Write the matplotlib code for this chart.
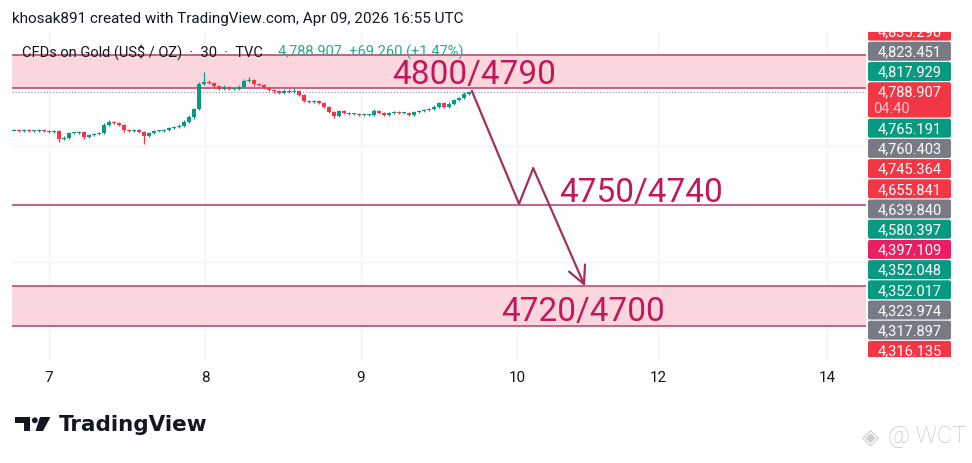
import numpy as np
import matplotlib.pyplot as plt
from matplotlib.patches import FancyBboxPatch, Polygon, Circle

# dane - swiece 30m (ceny zamkniecia)
closes = [
    4777.4, 4777.1, 4777.4, 4777.1, 4777.1, 4777.4, 4777.1, 4776.8, 4777.1, 4774.7,
    4775.0, 4776.5, 4776.5, 4776.8, 4775.3, 4775.9, 4776.2, 4776.5, 4778.9, 4779.8,
    4779.5, 4778.9, 4777.4, 4777.1, 4777.4, 4776.8, 4775.6, 4776.5, 4777.1, 4777.1,
    4777.4, 4778.0, 4778.3, 4778.6, 4779.8, 4781.3, 4783.7, 4791.3, 4791.9, 4791.6,
    4790.7, 4789.8, 4790.4, 4789.8, 4789.8, 4790.4, 4792.2, 4792.5, 4791.3, 4791.0,
    4790.1, 4789.5, 4789.2, 4788.6, 4789.2, 4788.9, 4789.2, 4788.0, 4786.2, 4785.9,
    4786.2, 4785.6, 4784.4, 4782.8, 4781.6, 4783.1, 4782.5, 4782.2, 4782.2, 4781.9,
    4781.9, 4781.9, 4783.1, 4782.5, 4781.9, 4782.5, 4782.8, 4782.5, 4782.5, 4781.9,
    4782.8, 4783.1, 4783.4, 4783.7, 4784.4, 4785.6, 4784.4, 4785.3, 4786.5, 4787.1,
    4788.3, 4788.907,
]
first_open = 4777.2
up_wick = [
    0.3, 0.2, 0.3, 0.2, 0.3, 0.2, 0.3, 0.2, 0.3, 0.4,
    0.5, 0.3, 0.4, 0.3, 0.3, 0.4, 0.3, 0.3, 0.5, 0.6,
    0.4, 0.3, 0.3, 0.3, 0.4, 0.3, 0.3, 0.4, 0.3, 0.3,
    0.4, 0.4, 0.3, 0.5, 0.5, 0.6, 0.4, 0.5, 3.0, 0.6,
    0.4, 0.3, 0.5, 0.3, 0.4, 0.5, 0.6, 0.9, 0.4, 0.3,
    0.4, 0.3, 0.3, 0.2, 0.6, 0.5, 0.8, 0.3, 0.3, 0.4,
    0.3, 0.2, 0.3, 0.3, 0.2, 0.4, 0.3, 0.3, 0.2, 0.3,
    0.3, 0.2, 0.5, 0.3, 0.2, 0.4, 0.3, 0.3, 0.2, 0.3,
    0.4, 0.3, 0.4, 0.3, 0.5, 0.4, 0.3, 0.5, 0.4, 0.4,
    0.5, 0.3,
]
low_wick = [
    0.2, 0.3, 0.2, 0.3, 0.2, 0.3, 0.2, 0.3, 0.2, 0.8,
    0.4, 0.3, 0.3, 0.2, 0.5, 0.3, 0.3, 0.4, 0.3, 0.3,
    0.3, 0.4, 0.5, 0.3, 0.3, 0.4, 2.5, 0.3, 0.3, 0.2,
    0.3, 0.3, 0.4, 0.3, 0.4, 0.3, 0.5, 0.4, 0.3, 0.4,
    0.5, 0.4, 0.3, 0.4, 0.3, 0.4, 0.3, 0.3, 0.5, 0.3,
    0.4, 0.3, 0.5, 0.4, 0.3, 0.3, 0.4, 0.3, 0.4, 0.3,
    0.3, 0.3, 0.4, 0.3, 0.6, 0.3, 0.4, 0.3, 0.3, 0.4,
    0.3, 0.4, 0.3, 0.4, 0.3, 0.3, 0.3, 0.4, 0.3, 0.4,
    0.3, 0.3, 0.3, 0.4, 0.3, 0.3, 0.4, 0.3, 0.3, 0.3,
    0.3, 0.3,
]
last_price = 4788.907

# strefy / linie narysowane na wykresie
zone_top = (4790.0, 4800.0)
level_mid = 4754.7
zone_low = (4718.0, 4730.1)
arrow_t = [2.710, 3.013, 3.104, 3.436]
arrow_p = [4789.3, 4755.0, 4765.8, 4730.0]

# os czasu
day_pos = [0, 1, 2, 3, 3.904, 4.987]
day_labels = ['7', '8', '9', '10', '12', '14']

# etykiety na osi cen
tag_values = ['4,835.296', '4,823.451', '4,817.929', '4,788.907', '4,765.191', '4,760.403',
              '4,745.364', '4,655.841', '4,639.840', '4,580.397', '4,397.109', '4,352.048',
              '4,352.017', '4,323.974', '4,317.897', '4,316.135']
tag_kind = ['red', 'gray', 'green', 'red', 'green', 'gray', 'red', 'red', 'gray', 'green',
            'pink', 'green', 'green', 'gray', 'gray', 'red']
countdown = '04:40'

UP = '#089981'
DOWN = '#f23645'
ZONE_FILL = '#fbd7dd'
ZONE_EDGE = '#c9557c'
LABEL_COL = '#c2185b'
ARROW_COL = '#a3305c'
tag_colors = {'red': '#f23645', 'gray': '#787b86', 'green': '#089981', 'pink': '#e91e63'}

plt.rcParams['font.family'] = ['Roboto', 'DejaVu Sans']

W, H = 972, 464
fig = plt.figure(figsize=(W / 100, H / 100), dpi=100)

# wspolrzedne pikselowe panelu
left_px, right_px, top_px, bot_px = 12, 866, 33, 361
ax = fig.add_axes([left_px / W, 1 - bot_px / H, (right_px - left_px) / W, (bot_px - top_px) / H])
ax.set_xlim((left_px - 49) / 156, (right_px - 49) / 156)
ax.set_ylim(4788.9 - (bot_px - 93) / 3.3, 4788.9 + (93 - top_px) / 3.3)
for s in ax.spines.values():
    s.set_visible(False)

# siatka
for d in day_pos:
    ax.axvline(d, color='#f0f3fa', lw=1, zorder=0)
for g in [4772.5, 4737.4]:
    ax.axhline(g, color='#f0f3fa', lw=1, zorder=0)

# strefy
ax.axhspan(zone_top[0], zone_top[1], color=ZONE_FILL, lw=0, zorder=1)
ax.axhspan(zone_low[0], zone_low[1], color=ZONE_FILL, lw=0, zorder=1)
for y in [zone_top[0], zone_top[1], zone_low[0], zone_low[1], level_mid]:
    ax.axhline(y, color=ZONE_EDGE, lw=1.3, zorder=2)

# linia aktualnej ceny
ax.axhline(last_price, color='#9a9ca5', lw=0.9, ls=(0, (1, 1.5)), zorder=2)

# swiece
n = len(closes)
t = (14 - 49) / 156 + np.arange(n) * (5 / 156)
opens = np.array([first_open] + closes[:-1])
cl = np.array(closes)
highs = np.maximum(opens, cl) + np.array(up_wick)
lows = np.minimum(opens, cl) - np.array(low_wick)
cols = [UP if c >= o else DOWN for o, c in zip(opens, cl)]
ax.vlines(t, lows, highs, colors=cols, lw=0.9, zorder=3)
body = np.maximum(np.abs(cl - opens), 0.2)
ax.bar(t, body, bottom=np.minimum(opens, cl), width=3.6 / 156, color=cols, lw=0, zorder=4)

# strzalka
ax.plot(arrow_t[:3], arrow_p[:3], color=ARROW_COL, lw=1.6, zorder=5, solid_capstyle='round')
ax.annotate('', xy=(arrow_t[3], arrow_p[3]), xytext=(arrow_t[2], arrow_p[2]),
            arrowprops=dict(arrowstyle='->,head_length=0.9,head_width=0.45', color=ARROW_COL,
                            lw=1.6, shrinkA=0, shrinkB=0, mutation_scale=14), zorder=5)

# opisy poziomow
ax.text(2.724, 4794.4, '4800/4790', color=LABEL_COL, fontsize=24,
        ha='center', va='center', zorder=6)
ax.text(3.795, 4758.6, '4750/4740', color=LABEL_COL, fontsize=24,
        ha='center', va='center', zorder=6)
ax.text(3.423, 4722.5, '4720/4700', color=LABEL_COL, fontsize=24,
        ha='center', va='center', zorder=6)

ax.set_xticks(day_pos)
ax.set_xticklabels(day_labels, fontsize=11, color='#131722')
ax.set_yticks([])
ax.tick_params(axis='x', length=0, pad=7)

# os cen z etykietami
pax = fig.add_axes([right_px / W, 1 - (bot_px - 3) / H, (W - right_px) / W, (bot_px - 3 - top_px) / H])
pax.set_xlim(right_px, W)
pax.set_ylim(bot_px - 3, top_px)
pax.axis('off')
y0 = 22.0
for i, (val, kind) in enumerate(zip(tag_values, tag_kind)):
    h = 36.5 if val == '4,788.907' else 20.2
    box = FancyBboxPatch((868, y0 + 0.6), 83, h - 1.2, boxstyle='round,pad=0,rounding_size=2',
                         fc=tag_colors[kind], ec='none', clip_on=True)
    pax.add_patch(box)
    if h > 30:
        pax.text(910, y0 + 10, val, color='white', fontsize=10.5, ha='center', va='center')
        pax.text(873, y0 + 26, countdown, color='#ffc7cc', fontsize=10.5, ha='left', va='center')
    else:
        pax.text(910, y0 + h / 2, val, color='white', fontsize=10.5, ha='center', va='center')
    y0 += h

# nakladka pikselowa - naglowek, legenda, logo
ov = fig.add_axes([0, 0, 1, 1], zorder=10)
ov.set_xlim(0, W)
ov.set_ylim(H, 0)
ov.axis('off')
ov.patch.set_alpha(0)
ov.text(12, 19, 'khosak891 created with TradingView.com, Apr 09, 2026 16:55 UTC',
        fontsize=11, color='#131722', va='center', ha='left')
ov.text(22, 52, 'CFDs on Gold (US$ / OZ)  ·  30  ·  TVC', fontsize=10.5, color='#131722',
        va='center', ha='left')
ov.text(278, 52, '4,788.907  +69.260 (+1.47%)', fontsize=10.5, color='#22ab94',
        va='center', ha='left')

# logo TradingView
ov.add_patch(Polygon([(15, 418), (30, 418), (30, 432), (24, 432), (24, 424), (15, 424)],
                     closed=True, fc='#131722', ec='none'))
ov.add_patch(Circle((34.8, 421.3), 2.9, fc='#131722', ec='none'))
ov.add_patch(Polygon([(40, 418), (50.5, 418), (43, 432), (35.5, 432)],
                     closed=True, fc='#131722', ec='none'))
ov.text(59, 425.5, 'TradingView', fontsize=15.5, fontweight='bold', color='#131722',
        family='DejaVu Sans', va='center', ha='left')

# znak wodny
ov.text(870, 437, '◈', fontsize=16, color='#cfcfcf', family='DejaVu Sans', va='center', ha='center')
ov.text(888, 437, '@ WCT', fontsize=17, color='#c4c4c4', fontweight='light', va='center', ha='left')

fig.savefig('out.png', dpi=100, facecolor='white')
